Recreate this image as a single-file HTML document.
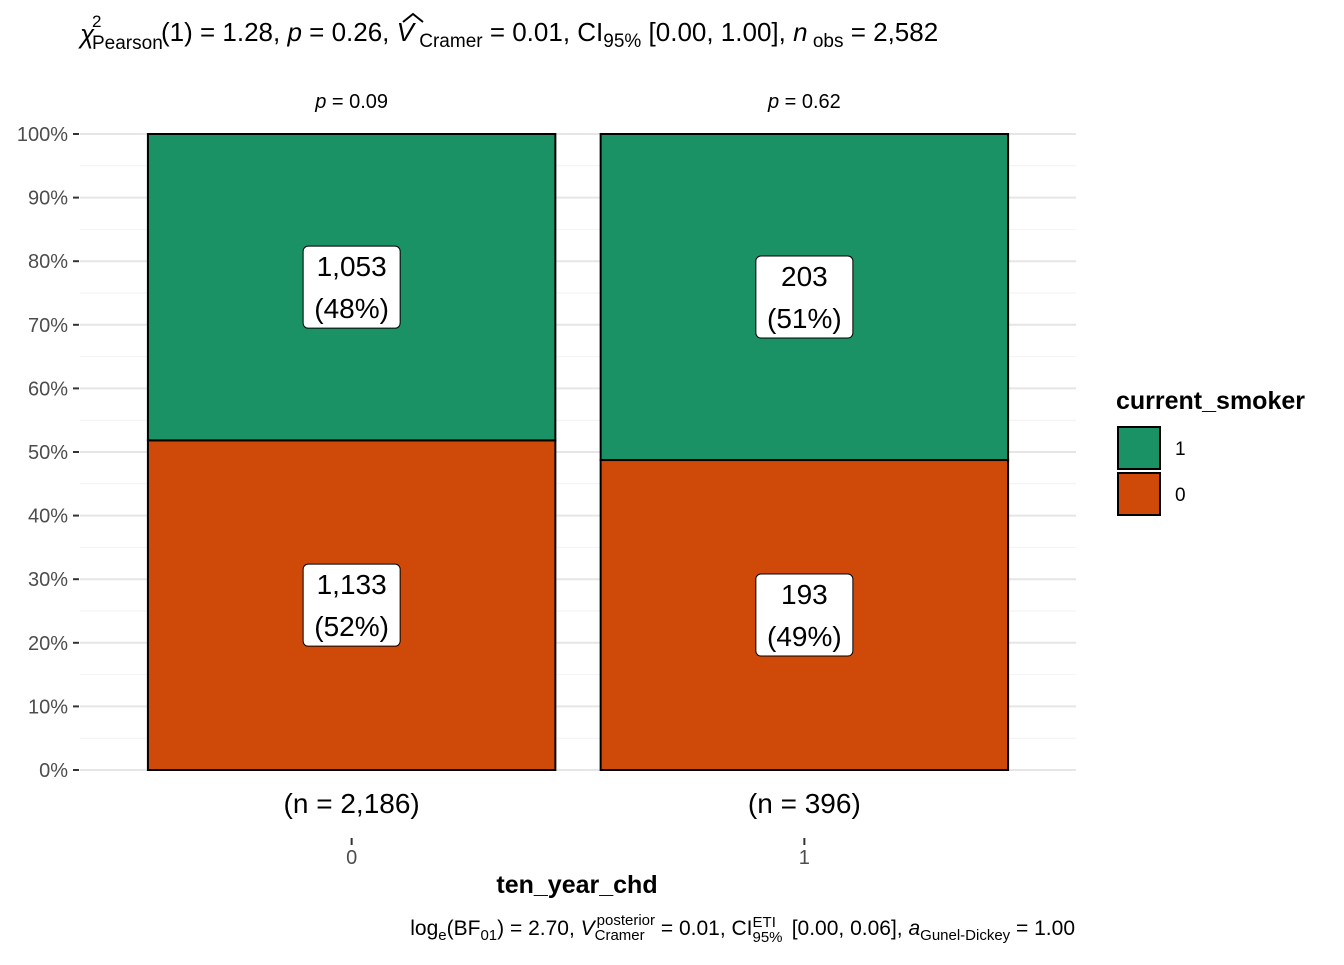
<!DOCTYPE html>
<html><head><meta charset="utf-8"><style>
body{margin:0;background:#fff;font-family:"Liberation Sans",sans-serif}
svg text{font-family:"Liberation Sans",sans-serif}
</style></head><body>
<svg id="chart" width="1344" height="960" xmlns="http://www.w3.org/2000/svg">
<g>
<text x="80" y="43" font-size="26" font-style="italic">χ</text>
<text x="92" y="27" font-size="17">2</text>
<text x="92" y="49" font-size="19">Pearson</text>
<text x="161" y="41" font-size="26"><tspan>(1) = 1.28, </tspan><tspan font-style="italic">p</tspan><tspan> = 0.26, </tspan><tspan font-style="italic">V</tspan><tspan font-size="19" dy="6"> Cramer</tspan><tspan dy="-6"> = 0.01, CI</tspan><tspan font-size="19" dy="6">95%</tspan><tspan dy="-6"> [0.00, 1.00], </tspan><tspan font-style="italic">n</tspan><tspan font-size="19" dy="6"> obs</tspan><tspan dy="-6"> = 2,582</tspan></text>
<path d="M403 22 L413 14 L423 22" fill="none" stroke="#000" stroke-width="2"/>
</g>
<g id="grid"></g>
<g id="bars"></g>
<g id="yaxis"></g>
<g id="xaxis"></g>
<text x="577" y="893" font-size="25" font-weight="bold" text-anchor="middle">ten_year_chd</text>
<g>
<text x="1075" y="935" font-size="21" text-anchor="end">log<tspan font-size="15" dy="5">e</tspan><tspan dy="-5">(BF</tspan><tspan font-size="15" dy="5">01</tspan><tspan dy="-5">) = 2.70, </tspan><tspan font-style="italic">V</tspan><tspan font-size="15" dy="5">Cramer</tspan><tspan font-size="15" dy="-15" dx="-48">posterior</tspan><tspan dy="10"> = 0.01, CI</tspan><tspan font-size="15" dy="7">95%</tspan><tspan font-size="15" dy="-15" dx="-30">ETI</tspan><tspan dy="8" dx="10"> [0.00, 0.06], </tspan><tspan font-style="italic">a</tspan><tspan font-size="15" dy="5">Gunel-Dickey</tspan><tspan dy="-5"> = 1.00</tspan></text>
</g>
<g>
<text x="1116" y="409" font-size="25" font-weight="bold">current_smoker</text>
<rect x="1118" y="427" width="42" height="42" fill="#1B9166" stroke="#000" stroke-width="2"/>
<text x="1175" y="455" font-size="19">1</text>
<rect x="1118" y="473" width="42" height="42" fill="#CF4A08" stroke="#000" stroke-width="2"/>
<text x="1175" y="501" font-size="19">0</text>
</g>
</svg>
<script>
const categories = ["0","1"];
const smoker1 = [1053, 203];
const smoker0 = [1133, 193];
const pvals = ["0.09","0.62"];
const yTicks = [0,10,20,30,40,50,60,70,80,90,100];
const NS="http://www.w3.org/2000/svg";
const y0=770,y100=134, left=80,right=1076;
const y=p=>y0+(y100-y0)*p/100;
const unit=(right-left)/(categories.length-1+1.2);
const xc=i=>left+unit*(0.6+i);
const bw=unit*0.9;
function mk(parent,tag,attrs,txt){const e=document.createElementNS(NS,tag);for(const k in attrs)e.setAttribute(k,attrs[k]);if(txt!==undefined)e.textContent=txt;document.getElementById(parent).appendChild(e);return e;}
const fmt=n=>n.toLocaleString('en-US');
for(let v=0;v<=100;v+=5){
  const g=mk('grid','line',{x1:left,x2:right,y1:y(v),y2:y(v),stroke:v%10?'#f2f2f2':'#e6e6e6','stroke-width':v%10?1:2});
  
  
}
yTicks.forEach(t=>{
  const l=mk('yaxis','line',{x1:73,x2:79,y1:y(t),y2:y(t),stroke:'#333','stroke-width':2});
  
  
  const tx=mk('yaxis','text',{x:68,y:y(t)+7,'font-size':20,'text-anchor':'end',fill:'#4d4d4d'},t+'%');
  
  
});
categories.forEach((c,i)=>{
  const tot=smoker1[i]+smoker0[i];
  const p0=smoker0[i]/tot*100;
  const x=xc(i)-bw/2;
  const segs=[[0,p0,'#CF4A08',smoker0[i]],[p0,100,'#1B9166',smoker1[i]]];
  segs.forEach(([a,b,col,n],k)=>{
    const r=mk('bars','rect',{x:x,y:y(b),width:bw,height:y(a)-y(b),fill:col,stroke:'#000','stroke-width':2});
    
    
  });
  segs.forEach(([a,b,col,n],k)=>{
    const cy=y((a+b)/2);
    const lab1=fmt(n), lab2='('+Math.round(n/tot*100)+'%)';
    const w=Math.max(lab1.length,lab2.length)*15+22;
    const bx=mk('bars','rect',{x:xc(i)-w/2,y:cy-41,width:w,height:82,rx:5,fill:'#fff',stroke:'#000','stroke-width':1});
    
    
    const t1=mk('bars','text',{x:xc(i),y:cy-11,'font-size':28,'text-anchor':'middle'},lab1);
    
    
    const t2=mk('bars','text',{x:xc(i),y:cy+31,'font-size':28,'text-anchor':'middle'},lab2);
    
    
  });
  const pt=mk('xaxis','text',{x:xc(i),y:108,'font-size':20,'text-anchor':'middle'});
  pt.innerHTML='<tspan font-style="italic">p</tspan> = '+pvals[i];
  
  
  const nt=mk('xaxis','text',{x:xc(i),y:813,'font-size':28,'text-anchor':'middle'},'(n = '+fmt(tot)+')');
  
  
  const tk=mk('xaxis','line',{x1:xc(i),x2:xc(i),y1:838,y2:845,stroke:'#333','stroke-width':2});
  
  
  const tl=mk('xaxis','text',{x:xc(i),y:864,'font-size':20,'text-anchor':'middle',fill:'#4d4d4d'},c);
  
  
});
</script>
</body></html>
